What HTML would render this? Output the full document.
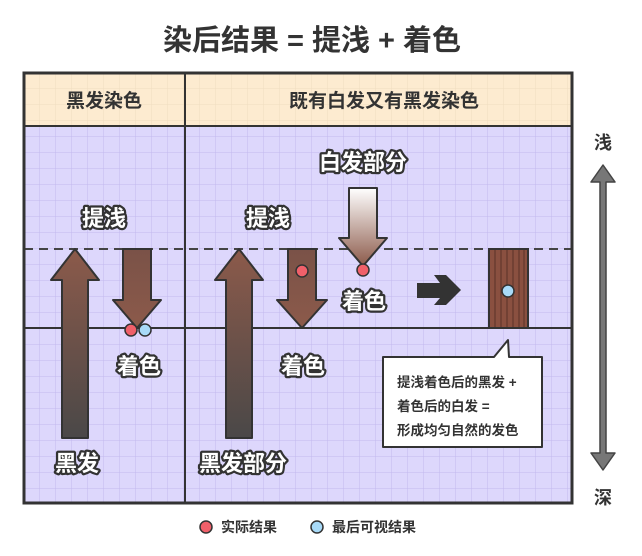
<!DOCTYPE html>
<html><head><meta charset="utf-8"><style>
body{margin:0;background:#fff}
svg{display:block}
text{font-family:"Liberation Sans","Noto Sans CJK SC",sans-serif;font-weight:bold}
.lb{font-size:22px;fill:#fff;stroke:#333;stroke-width:4.5px;paint-order:stroke;stroke-linejoin:round}
</style></head><body>
<svg width="642" height="556" viewBox="0 0 642 556" xmlns="http://www.w3.org/2000/svg">
<defs>
<pattern id="g" width="16" height="16" patternUnits="userSpaceOnUse" x="24" y="73">
<path d="M16 0V16M0 16H16" stroke="#c2b8ee" stroke-width="1" fill="none"/>
</pattern>
<pattern id="g2" width="16" height="16" patternUnits="userSpaceOnUse" x="24" y="73">
<path d="M16 0V16M0 16H16" stroke="#f0dcc0" stroke-width="1" fill="none"/>
</pattern>
<linearGradient id="up" x1="0" y1="0" x2="0" y2="1"><stop offset="0" stop-color="#8c5a4a"/><stop offset="1" stop-color="#4a4848"/></linearGradient>
<linearGradient id="dn" x1="0" y1="0" x2="0" y2="1"><stop offset="0" stop-color="#7a5248"/><stop offset="1" stop-color="#8c5a4a"/></linearGradient>
<linearGradient id="wh" x1="0" y1="0" x2="0" y2="1"><stop offset="0" stop-color="#ffffff"/><stop offset="1" stop-color="#8c5a4a"/></linearGradient>
</defs>
<text x="312" y="50" font-size="29" text-anchor="middle" fill="#333">染后结果 = 提浅 + 着色</text>
<rect x="24" y="73" width="548" height="430" fill="#ddd7fc"/>
<rect x="24" y="73" width="548" height="430" fill="url(#g)"/>
<rect x="24" y="73" width="548" height="53" fill="#fdebd0"/>
<rect x="24" y="73" width="548" height="53" fill="url(#g2)"/>
<line x1="24" y1="126" x2="572" y2="126" stroke="#333" stroke-width="2"/>
<line x1="185" y1="73" x2="185" y2="503" stroke="#333" stroke-width="2"/>
<line x1="24" y1="249" x2="572" y2="249" stroke="#444" stroke-width="2" stroke-dasharray="9,6"/>
<line x1="24" y1="328" x2="572" y2="328" stroke="#333" stroke-width="2"/>
<rect x="24" y="73" width="548" height="430" fill="none" stroke="#333" stroke-width="3"/>
<text x="104" y="107" font-size="19" text-anchor="middle" fill="#333">黑发染色</text>
<text x="384" y="107" font-size="19" text-anchor="middle" fill="#333">既有白发又有黑发染色</text>
<path d="M62 438V280H51L75 249L99 280H88V438Z" fill="url(#up)" stroke="#333" stroke-width="2" stroke-linejoin="round"/>
<path d="M123 249H151V300H161L137 328L113 300H123Z" fill="url(#dn)" stroke="#333" stroke-width="2" stroke-linejoin="round"/>
<circle cx="131" cy="330" r="6" fill="#f0606a" stroke="#333" stroke-width="1.5"/>
<circle cx="145" cy="330" r="6" fill="#a8daf8" stroke="#333" stroke-width="1.5"/>
<path d="M226 438V280H215L239 249L263 280H252V438Z" fill="url(#up)" stroke="#333" stroke-width="2" stroke-linejoin="round"/>
<path d="M288 249H316V300H327L302 328L277 300H288Z" fill="url(#dn)" stroke="#333" stroke-width="2" stroke-linejoin="round"/>
<circle cx="302" cy="271" r="6" fill="#f0606a" stroke="#333" stroke-width="1.5"/>
<path d="M349 188H377V238H387L363 266L339 238H349Z" fill="url(#wh)" stroke="#333" stroke-width="2" stroke-linejoin="round"/>
<circle cx="363" cy="270" r="6" fill="#f0606a" stroke="#333" stroke-width="1.5"/>
<path d="M417 283H440L434 275H446L461 290L446 305H434L440 298H417Z" fill="#333"/>
<rect x="489" y="249" width="39" height="79" fill="#8a5040" stroke="#333" stroke-width="2"/>
<g stroke="#5a3228" stroke-width="1"><line x1="495" y1="250" x2="495" y2="327"/><line x1="501" y1="250" x2="501" y2="327"/><line x1="507" y1="250" x2="507" y2="327"/><line x1="513" y1="250" x2="513" y2="327"/><line x1="519" y1="250" x2="519" y2="327"/><line x1="524" y1="250" x2="524" y2="327"/></g>
<circle cx="508" cy="291" r="6" fill="#a8daf8" stroke="#333" stroke-width="1.5"/>
<path d="M383 357H494L508 340L509 357H542V447H383Z" fill="#fff" stroke="#333" stroke-width="2" stroke-linejoin="round"/>
<text x="397" y="387" font-size="13.5" fill="#333">提浅着色后的黑发 +</text>
<text x="397" y="411" font-size="13.5" fill="#333">着色后的白发 =</text>
<text x="397" y="435" font-size="13.5" fill="#333">形成均匀自然的发色</text>
<text class="lb" x="104" y="226" text-anchor="middle">提浅</text>
<text class="lb" x="268" y="226" text-anchor="middle">提浅</text>
<text class="lb" x="363" y="170" text-anchor="middle">白发部分</text>
<text class="lb" x="364" y="309" text-anchor="middle">着色</text>
<text class="lb" x="139" y="374" text-anchor="middle">着色</text>
<text class="lb" x="303" y="374" text-anchor="middle">着色</text>
<text class="lb" x="77" y="471" text-anchor="middle">黑发</text>
<text class="lb" x="243" y="471" text-anchor="middle">黑发部分</text>
<path d="M600 182H591L603 165L615 182H606V453H615L603 470L591 453H600Z" fill="#777" stroke="#444" stroke-width="1.5" stroke-linejoin="round"/>
<text x="603" y="149" font-size="18" text-anchor="middle" fill="#333">浅</text>
<text x="603" y="504" font-size="18" text-anchor="middle" fill="#333">深</text>
<circle cx="206" cy="527" r="6" fill="#f0606a" stroke="#333" stroke-width="1.5"/>
<circle cx="317" cy="527" r="6" fill="#a8daf8" stroke="#333" stroke-width="1.5"/>
<text x="221" y="532" font-size="14" fill="#333">实际结果</text>
<text x="332" y="532" font-size="14" fill="#333">最后可视结果</text>
</svg>
</body></html>
